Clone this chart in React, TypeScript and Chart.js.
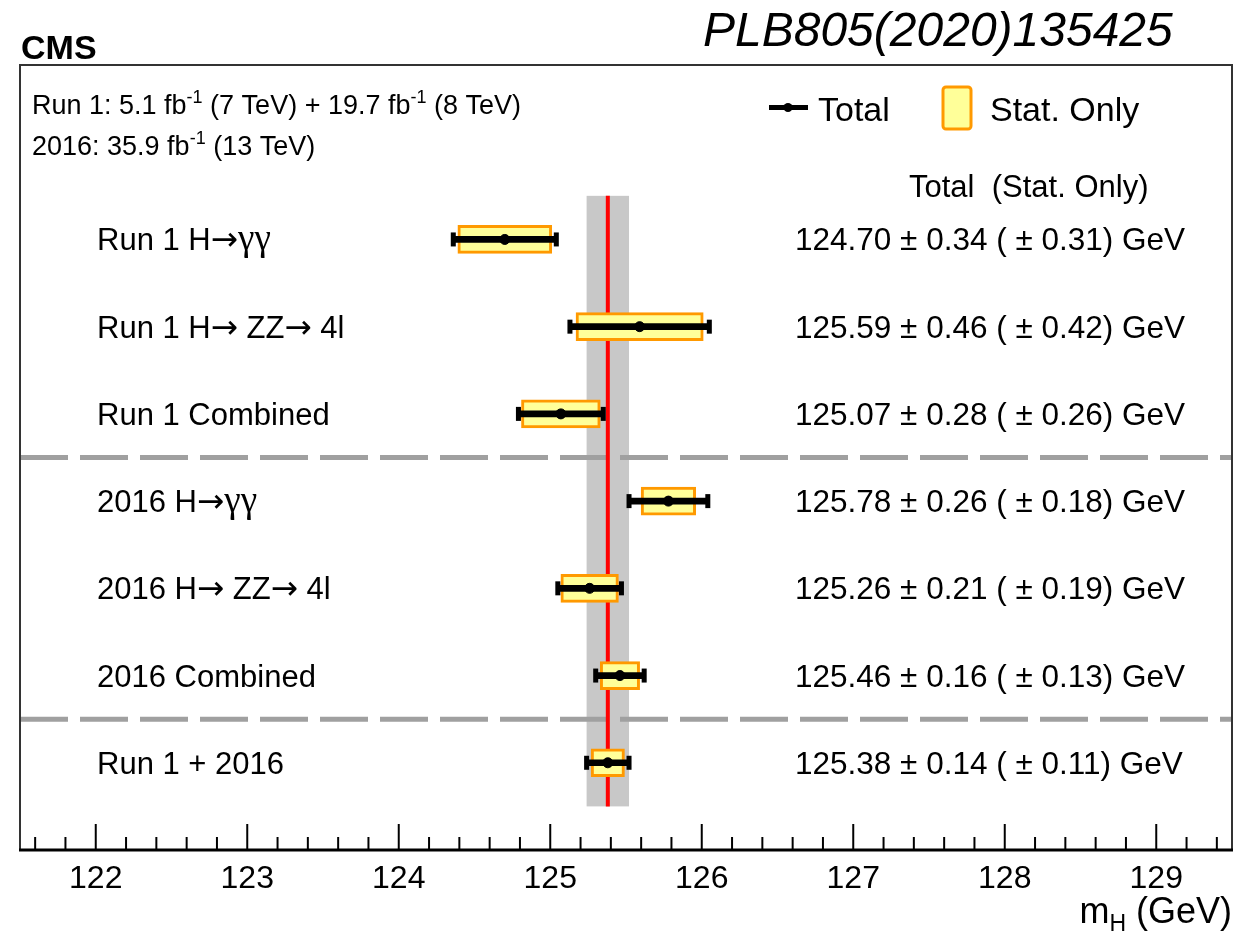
import React, { useEffect, useRef } from "react";
import { Chart, registerables } from "chart.js";

Chart.register(...registerables);

const FONT = '"Liberation Sans", Arial, Helvetica, sans-serif';
const SERIF = '"Liberation Serif", "Times New Roman", serif';
const ARROW = '"DejaVu Sans", sans-serif';

// ---- data ----
const categories = [
  "Run 1 H\u2192\u03b3\u03b3",
  "Run 1 H\u2192 ZZ\u2192 4l",
  "Run 1 Combined",
  "2016 H\u2192\u03b3\u03b3",
  "2016 H\u2192 ZZ\u2192 4l",
  "2016 Combined",
  "Run 1 + 2016",
];
const centralValues = [124.7, 125.59, 125.07, 125.78, 125.26, 125.46, 125.38];
const totalErrors = [0.34, 0.46, 0.28, 0.26, 0.21, 0.16, 0.14];
const statErrors = [0.31, 0.42, 0.26, 0.18, 0.19, 0.13, 0.11];
const xTickValues = [122, 123, 124, 125, 126, 127, 128, 129];
const separatorRows = [2.5, 5.5];
const combinedValue = 125.38;
const combinedError = 0.14;
const xMin = 121.5;
const xMax = 129.5;

type Part = { t: string; sup?: boolean; sub?: boolean; family?: string; scale?: number };

function drawRich(
  ctx: CanvasRenderingContext2D,
  x: number,
  y: number,
  parts: Part[],
  size: number,
  align: "left" | "right" = "left"
) {
  const small = Math.round(size * 0.65);
  const fontOf = (p: Part) =>
    `${(p.sup || p.sub ? small : size) * (p.scale || 1)}px ${p.family || FONT}`;
  const widths = parts.map((p) => {
    ctx.font = fontOf(p);
    return ctx.measureText(p.t).width;
  });
  const total = widths.reduce((a, b) => a + b, 0);
  let cx = align === "right" ? x - total : x;
  ctx.textAlign = "left";
  ctx.textBaseline = "alphabetic";
  parts.forEach((p, i) => {
    ctx.font = fontOf(p);
    const dy = p.sup ? -size * 0.42 : p.sub ? size * 0.22 : 0;
    ctx.fillText(p.t, cx, y + dy);
    cx += widths[i];
  });
}

// split a label so Greek letters and arrows use Symbol-like faces
function labelParts(s: string): Part[] {
  const parts: Part[] = [];
  for (const ch of s) {
    const fam = ch === "\u03b3" ? SERIF : ch === "\u2192" ? ARROW : FONT;
    const scale = ch === "\u03b3" ? 1.2 : ch === "\u2192" ? 1.05 : 1;
    const last = parts[parts.length - 1];
    if (last && (last.family || FONT) === fam) last.t += ch;
    else parts.push({ t: ch, family: fam, scale });
  }
  return parts;
}

export default function App() {
  const ref = useRef<HTMLCanvasElement>(null);

  useEffect(() => {
    const canvas = ref.current;
    if (!canvas) return;
    const rows = categories.map((_, i) => i);

    const overlay = {
      id: "overlay",
      beforeDatasetsDraw(chart: any) {
        const ctx: CanvasRenderingContext2D = chart.ctx;
        const xs = chart.scales.x;
        const ys = chart.scales.y;
        const area = chart.chartArea;
        const yTop = ys.getPixelForValue(-0.5);
        const yBot = ys.getPixelForValue(rows.length - 0.5);
        ctx.save();
        const bx1 = xs.getPixelForValue(combinedValue - combinedError);
        const bx2 = xs.getPixelForValue(combinedValue + combinedError);
        ctx.fillStyle = "#c8c8c8";
        ctx.fillRect(bx1, yTop, bx2 - bx1, yBot - yTop);
        ctx.strokeStyle = "#a0a0a0";
        ctx.lineWidth = 5;
        ctx.setLineDash([48, 12]);
        separatorRows.forEach((r) => {
          const y = ys.getPixelForValue(r);
          ctx.beginPath();
          ctx.moveTo(area.left, y);
          ctx.lineTo(area.right, y);
          ctx.stroke();
        });
        ctx.setLineDash([]);
        const rx = xs.getPixelForValue(combinedValue);
        ctx.strokeStyle = "#ff0000";
        ctx.lineWidth = 4;
        ctx.beginPath();
        ctx.moveTo(rx, yTop);
        ctx.lineTo(rx, yBot);
        ctx.stroke();
        ctx.restore();
      },
      afterDatasetsDraw(chart: any) {
        const ctx: CanvasRenderingContext2D = chart.ctx;
        const xs = chart.scales.x;
        const ys = chart.scales.y;
        ctx.save();
        ctx.fillStyle = "#000";
        rows.forEach((i) => {
          const y = ys.getPixelForValue(i);
          [centralValues[i] - totalErrors[i], centralValues[i] + totalErrors[i]].forEach((v) => {
            const x = xs.getPixelForValue(v);
            ctx.fillRect(x - 2.5, y - 7, 5, 14);
          });
        });
        ctx.restore();
      },
      afterDraw(chart: any) {
        const ctx: CanvasRenderingContext2D = chart.ctx;
        const xs = chart.scales.x;
        const ys = chart.scales.y;
        const area = chart.chartArea;
        ctx.save();
        // frame
        ctx.strokeStyle = "#333";
        ctx.lineWidth = 2;
        ctx.beginPath();
        ctx.moveTo(area.left, area.bottom);
        ctx.lineTo(area.left, area.top);
        ctx.lineTo(area.right, area.top);
        ctx.lineTo(area.right, area.bottom);
        ctx.stroke();
        ctx.strokeStyle = "#000";
        ctx.lineWidth = 3;
        ctx.beginPath();
        ctx.moveTo(area.left - 1, area.bottom);
        ctx.lineTo(area.right + 1, area.bottom);
        ctx.stroke();
        // ticks
        ctx.lineWidth = 2;
        for (let k = Math.ceil(xMin * 5); k <= Math.floor(xMax * 5); k++) {
          const v = k / 5;
          if (v <= xMin || v >= xMax) continue;
          const major = k % 5 === 0;
          const x = xs.getPixelForValue(v);
          ctx.beginPath();
          ctx.moveTo(x, area.bottom);
          ctx.lineTo(x, area.bottom - (major ? 26 : 13));
          ctx.stroke();
        }
        // tick labels
        ctx.fillStyle = "#000";
        ctx.font = `32px ${FONT}`;
        ctx.textAlign = "center";
        ctx.textBaseline = "alphabetic";
        xTickValues.forEach((v) => {
          ctx.fillText(String(v), xs.getPixelForValue(v), 888);
        });
        // axis title
        drawRich(ctx, area.right, 923, [{ t: "m" }, { t: "H", sub: true }, { t: " (GeV)" }], 36, "right");

        // row labels and values
        rows.forEach((i) => {
          const y = ys.getPixelForValue(i) + 11;
          drawRich(ctx, 97, y, labelParts(categories[i]), 31);
          const txt = `${centralValues[i].toFixed(2)} \u00b1 ${totalErrors[i].toFixed(2)} ( \u00b1 ${statErrors[i].toFixed(2)}) GeV`;
          drawRich(ctx, 795, y, [{ t: txt }], 31.5);
        });

        // column header
        drawRich(ctx, 909, 197, [{ t: "Total  (Stat. Only)" }], 31);

        // legend: Total
        ctx.fillStyle = "#000";
        ctx.fillRect(769, 105, 39, 5);
        ctx.beginPath();
        ctx.arc(788, 107.5, 4.5, 0, Math.PI * 2);
        ctx.fill();
        drawRich(ctx, 818, 121, [{ t: "Total" }], 34);
        // legend: Stat. Only
        ctx.fillStyle = "#ffff99";
        ctx.strokeStyle = "#ff9900";
        ctx.lineWidth = 3;
        ctx.beginPath();
        (ctx as any).roundRect(943, 87, 28, 42, 3);
        ctx.fill();
        ctx.stroke();
        ctx.fillStyle = "#000";
        drawRich(ctx, 990, 121, [{ t: "Stat. Only" }], 34);

        // luminosity text
        drawRich(ctx, 32, 114, [
          { t: "Run 1: 5.1 fb" },
          { t: "-1", sup: true },
          { t: " (7 TeV) + 19.7 fb" },
          { t: "-1", sup: true },
          { t: " (8 TeV)" },
        ], 27);
        drawRich(ctx, 32, 155, [
          { t: "2016: 35.9 fb" },
          { t: "-1", sup: true },
          { t: " (13 TeV)" },
        ], 27);

        // CMS
        ctx.font = `bold 34px ${FONT}`;
        ctx.textAlign = "left";
        ctx.fillText("CMS", 21, 59);
        // reference
        ctx.font = `italic 48px ${FONT}`;
        ctx.fillText("PLB805(2020)135425", 703, 46);
        ctx.restore();
      },
    };

    const chart = new Chart(canvas, {
      type: "bar",
      data: {
        datasets: [
          {
            type: "scatter",
            label: "Total",
            data: rows.map((i) => ({ x: centralValues[i], y: i })),
            pointRadius: 5,
            pointBackgroundColor: "#000",
            pointBorderColor: "#000",
            backgroundColor: "#000",
            borderColor: "#000",
            order: 1,
          } as any,
          {
            type: "bar",
            label: "Total error",
            data: rows.map((i) => ({
              x: [centralValues[i] - totalErrors[i], centralValues[i] + totalErrors[i]],
              y: i,
            })),
            backgroundColor: "#000",
            borderWidth: 0,
            barThickness: 6,
            grouped: false,
            indexAxis: "y",
            order: 2,
          } as any,
          {
            type: "bar",
            label: "Stat. Only",
            data: rows.map((i) => ({
              x: [centralValues[i] - statErrors[i], centralValues[i] + statErrors[i]],
              y: i,
            })),
            backgroundColor: "#ffff99",
            borderColor: "#ff9900",
            borderWidth: 3,
            borderSkipped: false,
            barThickness: 28,
            grouped: false,
            indexAxis: "y",
            order: 3,
          } as any,
        ],
      },
      options: {
        responsive: false,
        animation: false,
        indexAxis: "y",
        events: [],
        layout: { padding: { left: 20, right: 19, top: 65, bottom: 87 } },
        scales: {
          x: { type: "linear", min: xMin, max: xMax, display: false, offset: false },
          y: {
            type: "linear",
            min: -2,
            max: 7,
            reverse: true,
            display: false,
            offset: false,
            grid: { offset: false },
          },
        },
        plugins: { legend: { display: false }, tooltip: { enabled: false } },
      } as any,
      plugins: [overlay],
    });
    return () => chart.destroy();
  }, []);

  return (
    <canvas
      ref={ref}
      width={1251}
      height={937}
      style={{ position: "absolute", left: 0, top: 0, background: "#fff" }}
    />
  );
}
